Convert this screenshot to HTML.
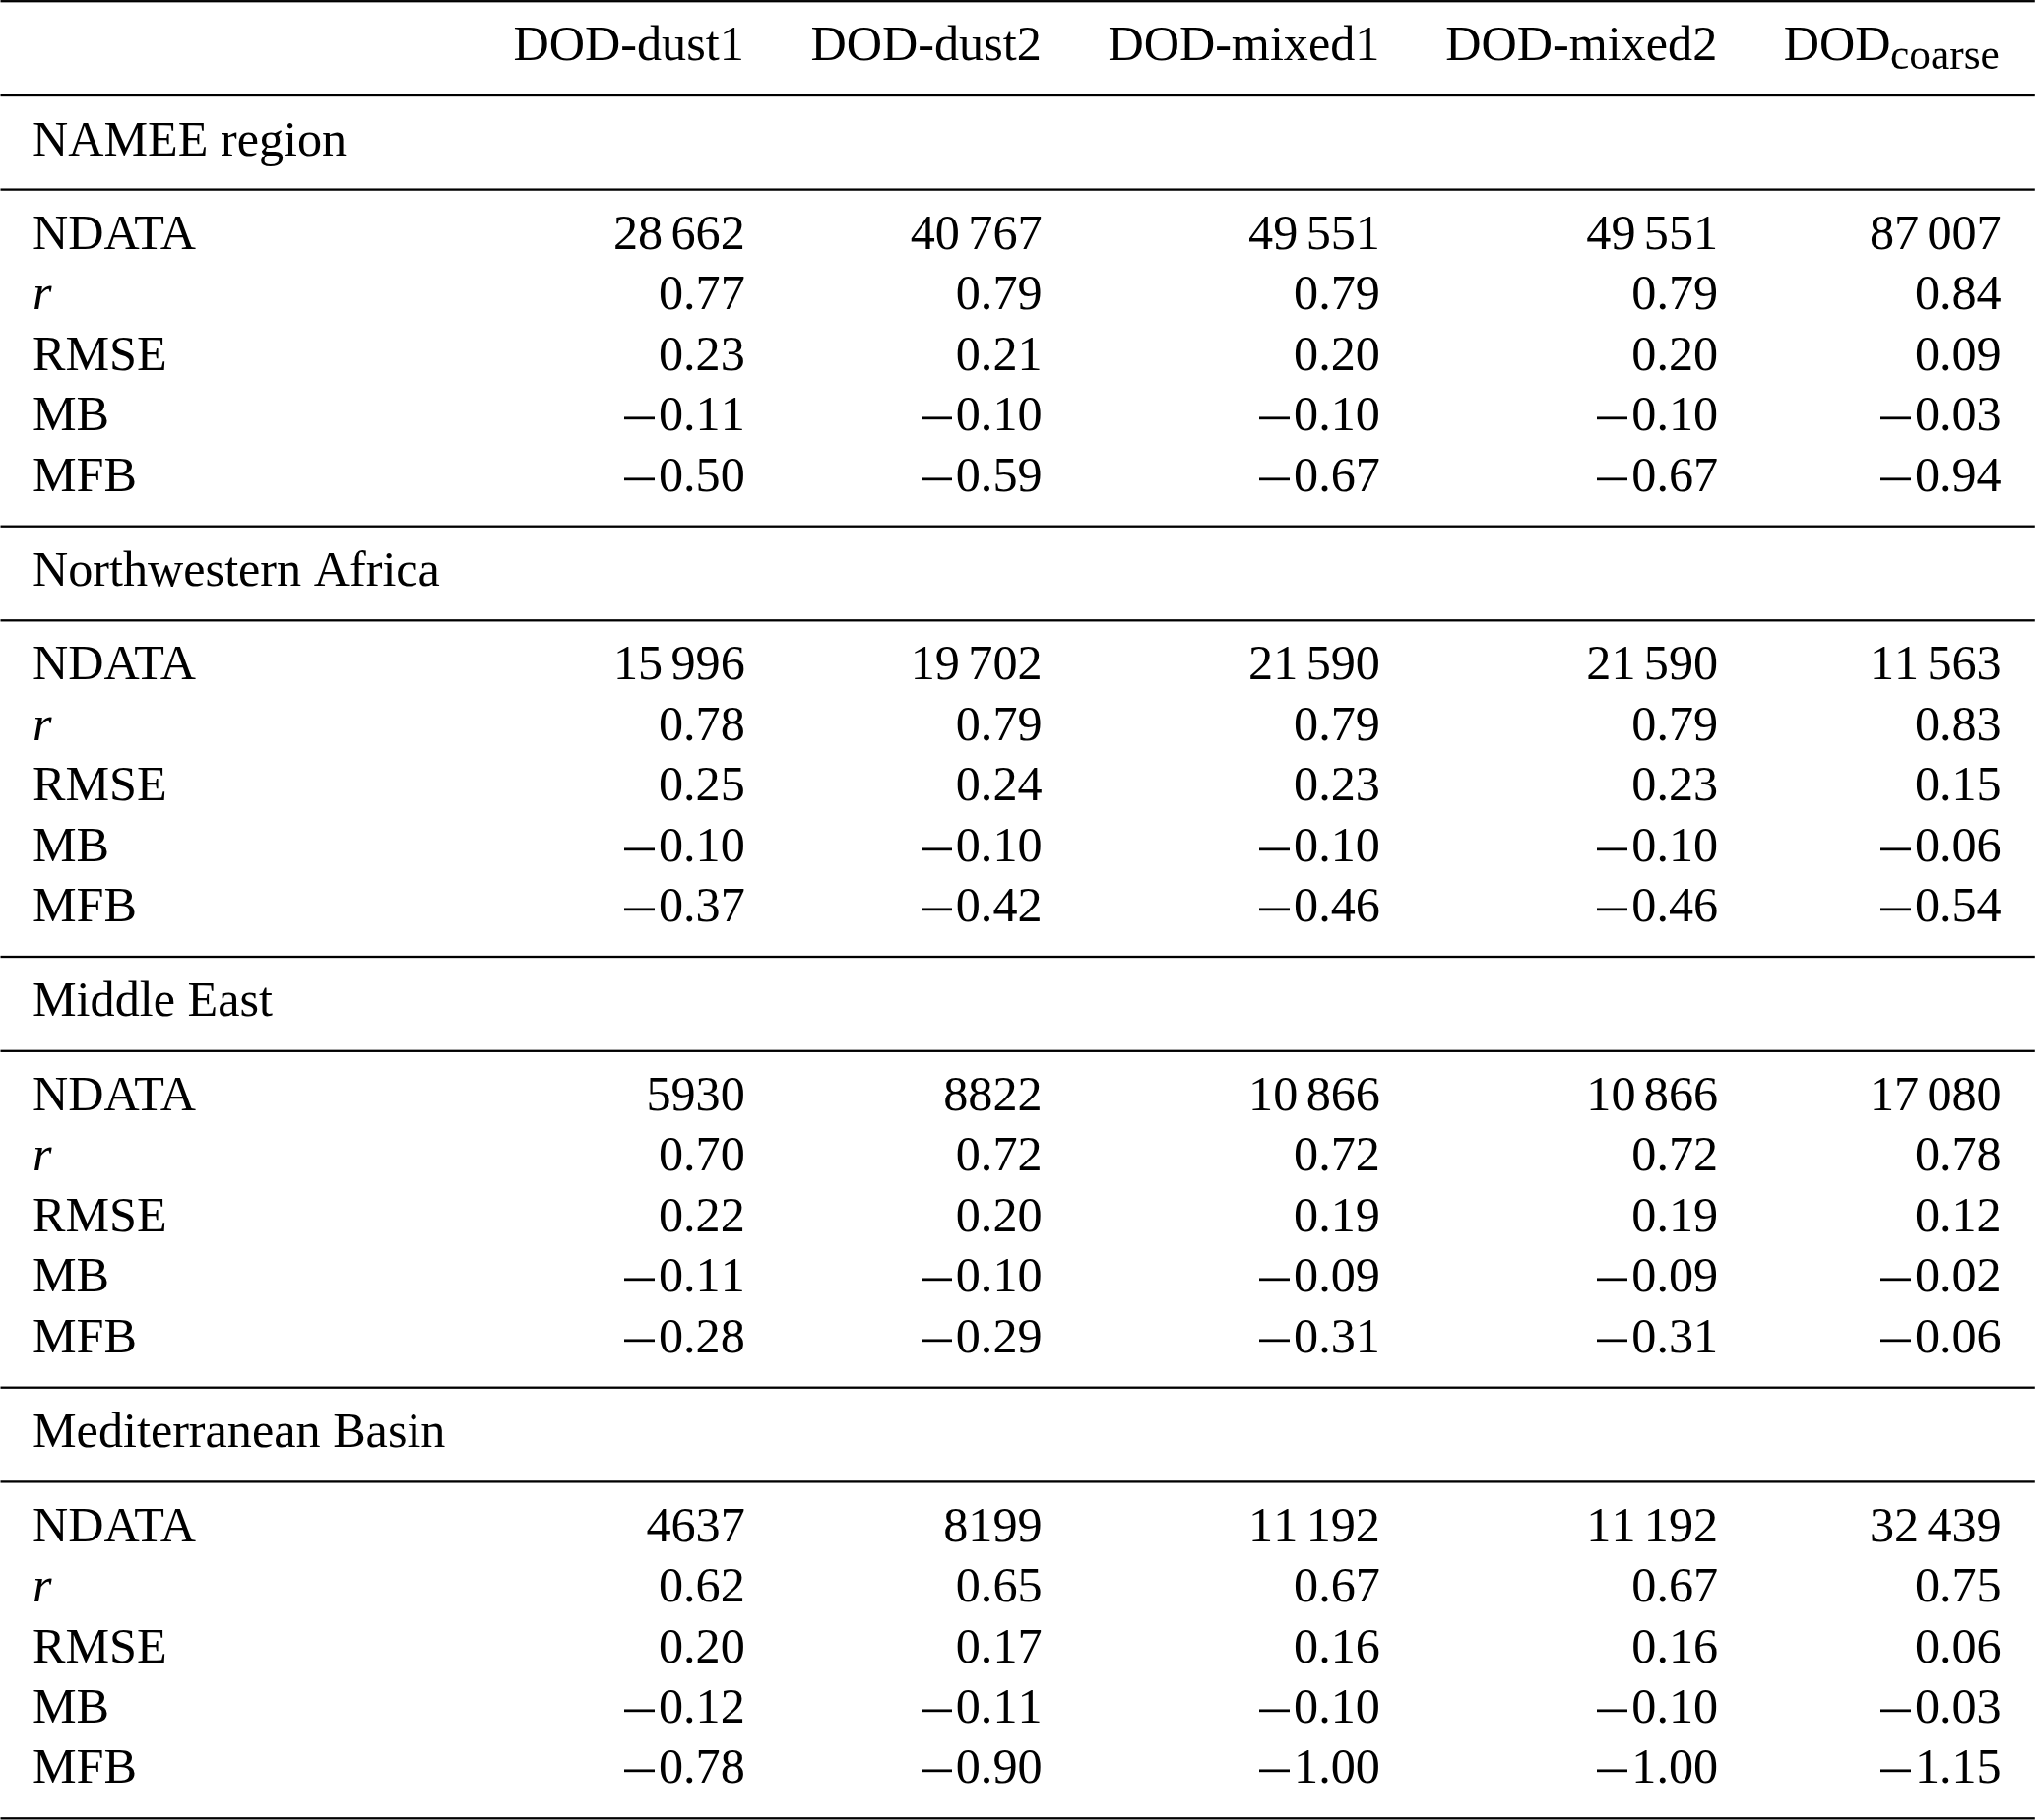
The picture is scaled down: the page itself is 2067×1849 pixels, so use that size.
<!DOCTYPE html>
<html><head><meta charset="utf-8"><style>
html,body{margin:0;padding:0;background:#fff;}
body{width:2067px;height:1849px;position:relative;overflow:hidden;}
svg{position:absolute;left:0;top:0;}
.c{position:absolute;font-family:"Liberation Serif",serif;font-size:50.2px;line-height:60.0px;white-space:nowrap;color:#000;}
.r{text-align:right;font-kerning:none;}
.it{font-style:italic;}
.t{display:inline-block;width:8.37px;}
.m{display:inline-block;width:30.67px;height:2px;background:#000;margin:0 4.19px;vertical-align:11px;box-shadow:0 -1px 0 rgba(0,0,0,.55),0 1px 0 rgba(0,0,0,.2);}
.sb{font-size:43.4px;will-change:transform;}
.nk{font-kerning:none;}
</style></head><body>
<svg width="2067" height="1849" viewBox="0 0 2067 1849" fill="#000"><rect x="0.5" y="0.05" width="2066.3" height="2.3"/><rect x="0.5" y="95.85" width="2066.3" height="2.3"/><rect x="0.5" y="191.45" width="2066.3" height="2.3"/><rect x="0.5" y="533.55" width="2066.3" height="2.3"/><rect x="0.5" y="629.15" width="2066.3" height="2.3"/><rect x="0.5" y="970.85" width="2066.3" height="2.3"/><rect x="0.5" y="1066.65" width="2066.3" height="2.3"/><rect x="0.5" y="1408.55" width="2066.3" height="2.3"/><rect x="0.5" y="1504.25" width="2066.3" height="2.3"/><rect x="0.5" y="1846.15" width="2066.3" height="2.3"/></svg>
<div class="c r" style="right:1311.25px;top:14px">DOD-dust1</div>
<div class="c r" style="right:1009.25px;top:14px">DOD-dust2</div>
<div class="c r" style="right:665.6px;top:14px">DOD-mixed1</div>
<div class="c r" style="right:322.7px;top:14px">DOD-mixed2</div>
<div class="c" style="left:1811.65px;top:14px">DOD</div>
<div class="c sb" style="left:1920.4px;top:24.86px">coarse</div>
<div class="c" style="left:33px;top:111px">NAMEE region</div>
<div class="c" style="left:33px;top:206px">NDATA</div>
<div class="c r" style="right:1310.25px;top:206px">28<i class="t"></i>662</div>
<div class="c r" style="right:1008.45px;top:206px">40<i class="t"></i>767</div>
<div class="c r" style="right:665.1px;top:206px">49<i class="t"></i>551</div>
<div class="c r" style="right:321.9px;top:206px">49<i class="t"></i>551</div>
<div class="c r" style="right:34.3px;top:206px">87<i class="t"></i>007</div>
<div class="c it" style="left:33px;top:267px">r</div>
<div class="c r" style="right:1310.25px;top:267px">0.77</div>
<div class="c r" style="right:1008.45px;top:267px">0.79</div>
<div class="c r" style="right:665.1px;top:267px">0.79</div>
<div class="c r" style="right:321.9px;top:267px">0.79</div>
<div class="c r" style="right:34.3px;top:267px">0.84</div>
<div class="c" style="left:33px;top:329px">RMSE</div>
<div class="c r" style="right:1310.25px;top:329px">0.23</div>
<div class="c r" style="right:1008.45px;top:329px">0.21</div>
<div class="c r" style="right:665.1px;top:329px">0.20</div>
<div class="c r" style="right:321.9px;top:329px">0.20</div>
<div class="c r" style="right:34.3px;top:329px">0.09</div>
<div class="c" style="left:33px;top:390px">MB</div>
<div class="c r" style="right:1310.25px;top:390px"><i class="m"></i>0.11</div>
<div class="c r" style="right:1008.45px;top:390px"><i class="m"></i>0.10</div>
<div class="c r" style="right:665.1px;top:390px"><i class="m"></i>0.10</div>
<div class="c r" style="right:321.9px;top:390px"><i class="m"></i>0.10</div>
<div class="c r" style="right:34.3px;top:390px"><i class="m"></i>0.03</div>
<div class="c" style="left:33px;top:452px">MFB</div>
<div class="c r" style="right:1310.25px;top:452px"><i class="m"></i>0.50</div>
<div class="c r" style="right:1008.45px;top:452px"><i class="m"></i>0.59</div>
<div class="c r" style="right:665.1px;top:452px"><i class="m"></i>0.67</div>
<div class="c r" style="right:321.9px;top:452px"><i class="m"></i>0.67</div>
<div class="c r" style="right:34.3px;top:452px"><i class="m"></i>0.94</div>
<div class="c nk" style="left:33px;top:548px">Northwestern Africa</div>
<div class="c" style="left:33px;top:643px">NDATA</div>
<div class="c r" style="right:1310.25px;top:643px">15<i class="t"></i>996</div>
<div class="c r" style="right:1008.45px;top:643px">19<i class="t"></i>702</div>
<div class="c r" style="right:665.1px;top:643px">21<i class="t"></i>590</div>
<div class="c r" style="right:321.9px;top:643px">21<i class="t"></i>590</div>
<div class="c r" style="right:34.3px;top:643px">11<i class="t"></i>563</div>
<div class="c it" style="left:33px;top:705px">r</div>
<div class="c r" style="right:1310.25px;top:705px">0.78</div>
<div class="c r" style="right:1008.45px;top:705px">0.79</div>
<div class="c r" style="right:665.1px;top:705px">0.79</div>
<div class="c r" style="right:321.9px;top:705px">0.79</div>
<div class="c r" style="right:34.3px;top:705px">0.83</div>
<div class="c" style="left:33px;top:766px">RMSE</div>
<div class="c r" style="right:1310.25px;top:766px">0.25</div>
<div class="c r" style="right:1008.45px;top:766px">0.24</div>
<div class="c r" style="right:665.1px;top:766px">0.23</div>
<div class="c r" style="right:321.9px;top:766px">0.23</div>
<div class="c r" style="right:34.3px;top:766px">0.15</div>
<div class="c" style="left:33px;top:828px">MB</div>
<div class="c r" style="right:1310.25px;top:828px"><i class="m"></i>0.10</div>
<div class="c r" style="right:1008.45px;top:828px"><i class="m"></i>0.10</div>
<div class="c r" style="right:665.1px;top:828px"><i class="m"></i>0.10</div>
<div class="c r" style="right:321.9px;top:828px"><i class="m"></i>0.10</div>
<div class="c r" style="right:34.3px;top:828px"><i class="m"></i>0.06</div>
<div class="c" style="left:33px;top:889px">MFB</div>
<div class="c r" style="right:1310.25px;top:889px"><i class="m"></i>0.37</div>
<div class="c r" style="right:1008.45px;top:889px"><i class="m"></i>0.42</div>
<div class="c r" style="right:665.1px;top:889px"><i class="m"></i>0.46</div>
<div class="c r" style="right:321.9px;top:889px"><i class="m"></i>0.46</div>
<div class="c r" style="right:34.3px;top:889px"><i class="m"></i>0.54</div>
<div class="c" style="left:33px;top:985px">Middle East</div>
<div class="c" style="left:33px;top:1081px">NDATA</div>
<div class="c r" style="right:1310.25px;top:1081px">5930</div>
<div class="c r" style="right:1008.45px;top:1081px">8822</div>
<div class="c r" style="right:665.1px;top:1081px">10<i class="t"></i>866</div>
<div class="c r" style="right:321.9px;top:1081px">10<i class="t"></i>866</div>
<div class="c r" style="right:34.3px;top:1081px">17<i class="t"></i>080</div>
<div class="c it" style="left:33px;top:1142px">r</div>
<div class="c r" style="right:1310.25px;top:1142px">0.70</div>
<div class="c r" style="right:1008.45px;top:1142px">0.72</div>
<div class="c r" style="right:665.1px;top:1142px">0.72</div>
<div class="c r" style="right:321.9px;top:1142px">0.72</div>
<div class="c r" style="right:34.3px;top:1142px">0.78</div>
<div class="c" style="left:33px;top:1204px">RMSE</div>
<div class="c r" style="right:1310.25px;top:1204px">0.22</div>
<div class="c r" style="right:1008.45px;top:1204px">0.20</div>
<div class="c r" style="right:665.1px;top:1204px">0.19</div>
<div class="c r" style="right:321.9px;top:1204px">0.19</div>
<div class="c r" style="right:34.3px;top:1204px">0.12</div>
<div class="c" style="left:33px;top:1265px">MB</div>
<div class="c r" style="right:1310.25px;top:1265px"><i class="m"></i>0.11</div>
<div class="c r" style="right:1008.45px;top:1265px"><i class="m"></i>0.10</div>
<div class="c r" style="right:665.1px;top:1265px"><i class="m"></i>0.09</div>
<div class="c r" style="right:321.9px;top:1265px"><i class="m"></i>0.09</div>
<div class="c r" style="right:34.3px;top:1265px"><i class="m"></i>0.02</div>
<div class="c" style="left:33px;top:1327px">MFB</div>
<div class="c r" style="right:1310.25px;top:1327px"><i class="m"></i>0.28</div>
<div class="c r" style="right:1008.45px;top:1327px"><i class="m"></i>0.29</div>
<div class="c r" style="right:665.1px;top:1327px"><i class="m"></i>0.31</div>
<div class="c r" style="right:321.9px;top:1327px"><i class="m"></i>0.31</div>
<div class="c r" style="right:34.3px;top:1327px"><i class="m"></i>0.06</div>
<div class="c" style="left:33px;top:1423px">Mediterranean Basin</div>
<div class="c" style="left:33px;top:1519px">NDATA</div>
<div class="c r" style="right:1310.25px;top:1519px">4637</div>
<div class="c r" style="right:1008.45px;top:1519px">8199</div>
<div class="c r" style="right:665.1px;top:1519px">11<i class="t"></i>192</div>
<div class="c r" style="right:321.9px;top:1519px">11<i class="t"></i>192</div>
<div class="c r" style="right:34.3px;top:1519px">32<i class="t"></i>439</div>
<div class="c it" style="left:33px;top:1580px">r</div>
<div class="c r" style="right:1310.25px;top:1580px">0.62</div>
<div class="c r" style="right:1008.45px;top:1580px">0.65</div>
<div class="c r" style="right:665.1px;top:1580px">0.67</div>
<div class="c r" style="right:321.9px;top:1580px">0.67</div>
<div class="c r" style="right:34.3px;top:1580px">0.75</div>
<div class="c" style="left:33px;top:1642px">RMSE</div>
<div class="c r" style="right:1310.25px;top:1642px">0.20</div>
<div class="c r" style="right:1008.45px;top:1642px">0.17</div>
<div class="c r" style="right:665.1px;top:1642px">0.16</div>
<div class="c r" style="right:321.9px;top:1642px">0.16</div>
<div class="c r" style="right:34.3px;top:1642px">0.06</div>
<div class="c" style="left:33px;top:1703px">MB</div>
<div class="c r" style="right:1310.25px;top:1703px"><i class="m"></i>0.12</div>
<div class="c r" style="right:1008.45px;top:1703px"><i class="m"></i>0.11</div>
<div class="c r" style="right:665.1px;top:1703px"><i class="m"></i>0.10</div>
<div class="c r" style="right:321.9px;top:1703px"><i class="m"></i>0.10</div>
<div class="c r" style="right:34.3px;top:1703px"><i class="m"></i>0.03</div>
<div class="c" style="left:33px;top:1764px">MFB</div>
<div class="c r" style="right:1310.25px;top:1764px"><i class="m"></i>0.78</div>
<div class="c r" style="right:1008.45px;top:1764px"><i class="m"></i>0.90</div>
<div class="c r" style="right:665.1px;top:1764px"><i class="m"></i>1.00</div>
<div class="c r" style="right:321.9px;top:1764px"><i class="m"></i>1.00</div>
<div class="c r" style="right:34.3px;top:1764px"><i class="m"></i>1.15</div>
</body></html>
